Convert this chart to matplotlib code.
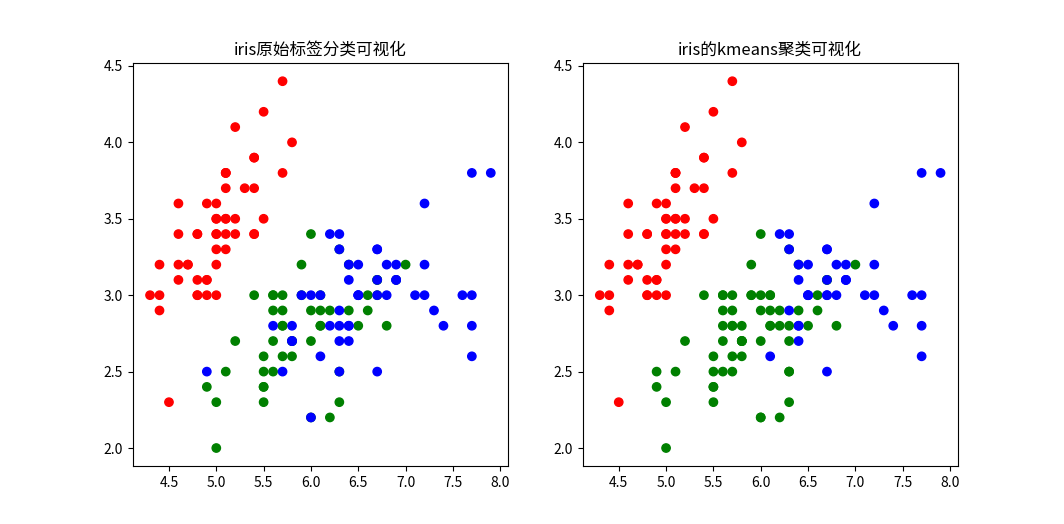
import matplotlib
matplotlib.use("Agg")
import matplotlib.pyplot as plt

plt.rcParams['font.family'] = ['Noto Sans CJK SC', 'DejaVu Sans']
plt.rcParams['axes.unicode_minus'] = False

sepal_length = [
    5.1, 4.9, 4.7, 4.6, 5.0, 5.4, 4.6, 5.0, 4.4, 4.9, 5.4, 4.8, 4.8, 4.3, 5.8, 5.7, 5.4, 5.1, 5.7, 5.1,
    5.4, 5.1, 4.6, 5.1, 4.8, 5.0, 5.0, 5.2, 5.2, 4.7, 4.8, 5.4, 5.2, 5.5, 4.9, 5.0, 5.5, 4.9, 4.4, 5.1,
    5.0, 4.5, 4.4, 5.0, 5.1, 4.8, 5.1, 4.6, 5.3, 5.0,
    7.0, 6.4, 6.9, 5.5, 6.5, 5.7, 6.3, 4.9, 6.6, 5.2, 5.0, 5.9, 6.0, 6.1, 5.6, 6.7, 5.6, 5.8, 6.2, 5.6,
    5.9, 6.1, 6.3, 6.1, 6.4, 6.6, 6.8, 6.7, 6.0, 5.7, 5.5, 5.5, 5.8, 6.0, 5.4, 6.0, 6.7, 6.3, 5.6, 5.5,
    5.5, 6.1, 5.8, 5.0, 5.6, 5.7, 5.7, 6.2, 5.1, 5.7,
    6.3, 5.8, 7.1, 6.3, 6.5, 7.6, 4.9, 7.3, 6.7, 7.2, 6.5, 6.4, 6.8, 5.7, 5.8, 6.4, 6.5, 7.7, 7.7, 6.0,
    6.9, 5.6, 7.7, 6.3, 6.7, 7.2, 6.2, 6.1, 6.4, 7.2, 7.4, 7.9, 6.4, 6.3, 6.1, 7.7, 6.3, 6.4, 6.0, 6.9,
    6.7, 6.9, 5.8, 6.8, 6.7, 6.7, 6.3, 6.5, 6.2, 5.9,
]
sepal_width = [
    3.5, 3.0, 3.2, 3.1, 3.6, 3.9, 3.4, 3.4, 2.9, 3.1, 3.7, 3.4, 3.0, 3.0, 4.0, 4.4, 3.9, 3.5, 3.8, 3.8,
    3.4, 3.7, 3.6, 3.3, 3.4, 3.0, 3.4, 3.5, 3.4, 3.2, 3.1, 3.4, 4.1, 4.2, 3.1, 3.2, 3.5, 3.6, 3.0, 3.4,
    3.5, 2.3, 3.2, 3.5, 3.8, 3.0, 3.8, 3.2, 3.7, 3.3,
    3.2, 3.2, 3.1, 2.3, 2.8, 2.8, 3.3, 2.4, 2.9, 2.7, 2.0, 3.0, 2.2, 2.9, 2.9, 3.1, 3.0, 2.7, 2.2, 2.5,
    3.2, 2.8, 2.5, 2.8, 2.9, 3.0, 2.8, 3.0, 2.9, 2.6, 2.4, 2.4, 2.7, 2.7, 3.0, 3.4, 3.1, 2.3, 3.0, 2.5,
    2.6, 3.0, 2.6, 2.3, 2.7, 3.0, 2.9, 2.9, 2.5, 2.8,
    3.3, 2.7, 3.0, 2.9, 3.0, 3.0, 2.5, 2.9, 2.5, 3.6, 3.2, 2.7, 3.0, 2.5, 2.8, 3.2, 3.0, 3.8, 2.6, 2.2,
    3.2, 2.8, 2.8, 2.7, 3.3, 3.2, 2.8, 3.0, 2.8, 3.0, 2.8, 3.8, 2.8, 2.8, 2.6, 3.0, 3.4, 3.1, 3.0, 3.1,
    3.1, 3.1, 2.7, 3.2, 3.3, 3.0, 2.5, 3.0, 3.4, 3.0,
]

# original labels: 0 setosa, 1 versicolor, 2 virginica
true_labels = [0] * 50 + [1] * 50 + [2] * 50

# kmeans cluster labels (0 setosa-like, 1 versicolor-like, 2 virginica-like)
kmeans_labels = (
    [0] * 50
    + [1, 1, 2, 1, 1, 1, 1, 1, 1, 1, 1, 1, 1, 1, 1, 1, 1, 1, 1, 1, 1, 1, 1, 1, 1,
       1, 1, 2, 1, 1, 1, 1, 1, 1, 1, 1, 1, 1, 1, 1, 1, 1, 1, 1, 1, 1, 1, 1, 1, 1]
    + [2, 1, 2, 2, 2, 2, 1, 2, 2, 2, 2, 2, 2, 1, 1, 2, 2, 2, 2, 1, 2, 1, 2, 1, 2,
       2, 1, 1, 2, 2, 2, 2, 2, 1, 2, 2, 2, 2, 1, 2, 2, 2, 1, 2, 2, 2, 1, 2, 2, 1]
)

palette = ['red', 'green', 'blue']
titles = ['iris原始标签分类可视化', 'iris的kmeans聚类可视化']

fig = plt.figure(figsize=(10.64, 5.24), dpi=100)
for i, (labels, title) in enumerate(zip([true_labels, kmeans_labels], titles)):
    ax = fig.add_subplot(1, 2, i + 1)
    ax.scatter(sepal_length, sepal_width, c=[palette[l] for l in labels])
    ax.set_title(title)

fig.savefig('out.png', dpi=100)
